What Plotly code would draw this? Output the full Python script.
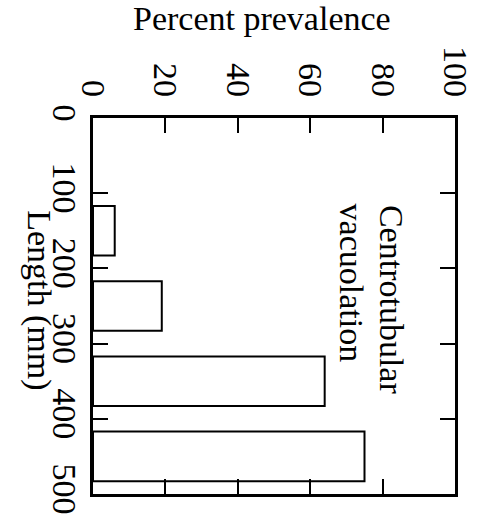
import plotly.graph_objects as go

# Fish length classes (bin centres, mm) and prevalence of centrotubular vacuolation (%)
length_mm = [150, 250, 350, 450]
prevalence_pct = [6, 19, 64, 75]
bin_width_mm = 66

percent_ticks = [0, 20, 40, 60, 80, 100]
length_ticks = [0, 100, 200, 300, 400, 500]

FONT = "Liberation Serif, Times New Roman, serif"
FS = 34

fig = go.Figure()
fig.add_trace(go.Bar(
    y=length_mm,
    x=prevalence_pct,
    width=bin_width_mm,
    orientation="h",
    marker=dict(color="white", line=dict(color="black", width=2)),
    showlegend=False,
))

axis_style = dict(
    tickangle=90,
    ticks="inside",
    ticklen=15,
    tickwidth=1.5,
    tickcolor="black",
    showline=True,
    linecolor="black",
    linewidth=3,
    mirror="ticks",
    showgrid=False,
    zeroline=False,
    tickfont=dict(family=FONT, size=FS, color="black"),
)

fig.update_xaxes(
    range=[0, 100],
    side="top",
    tickvals=percent_ticks,
    ticktext=[str(v) for v in percent_ticks],
    ticklabelstandoff=6,
    **axis_style,
)
fig.update_yaxes(
    range=[500, 0],
    tickvals=length_ticks,
    ticktext=[str(v) for v in length_ticks],
    ticklabelstandoff=-4,
    **axis_style,
)

W, H = 486, 527
L, R, T, B = 93, 19, 118, 33

def px_x(p):
    return (p - L) / (W - L - R)

def px_y(p):
    return 1 - (p - T) / (H - T - B)

fig.add_annotation(
    x=px_x(268), y=px_y(19), xref="paper", yref="paper",
    text="Percent prevalence", showarrow=False,
    xanchor="center", yanchor="middle",
    font=dict(family=FONT, size=FS, color="black"),
)
fig.add_annotation(
    x=px_x(37), y=px_y(300), xref="paper", yref="paper",
    text="Length (mm)", showarrow=False, textangle=90,
    xanchor="center", yanchor="middle",
    font=dict(family=FONT, size=FS, color="black"),
)
# Two-line label, written as separate rotated lines for tighter spacing
fig.add_annotation(
    x=px_x(402), y=px_y(300), xref="paper", yref="paper",
    text="Centrotubular", showarrow=False, textangle=90,
    xanchor="center", yanchor="middle",
    font=dict(family=FONT, size=FS, color="black"),
)
fig.add_annotation(
    x=px_x(361), y=px_y(283), xref="paper", yref="paper",
    text="vacuolation", showarrow=False, textangle=90,
    xanchor="center", yanchor="middle",
    font=dict(family=FONT, size=FS, color="black"),
)

fig.update_layout(
    width=W, height=H,
    margin=dict(l=L, r=R, t=T, b=B),
    paper_bgcolor="white",
    plot_bgcolor="white",
)

fig.write_html("out.html")
